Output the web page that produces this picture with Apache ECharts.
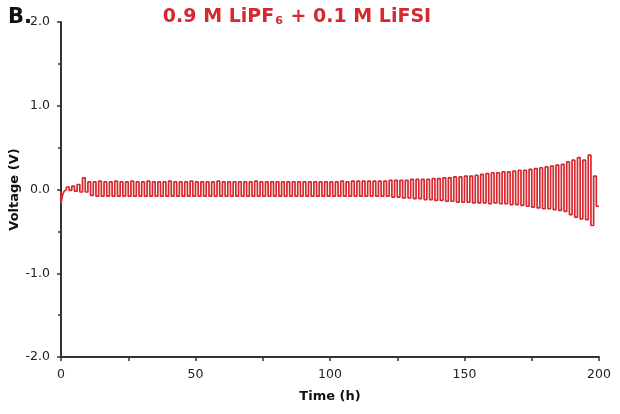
<!DOCTYPE html>
<html>
<head>
<meta charset="utf-8">
<script src="https://cdn.jsdelivr.net/npm/echarts@6/dist/echarts.min.js"></script>
<style>
html,body{margin:0;padding:0;background:#fff;}
#c{width:620px;height:414px;}
</style>
</head>
<body>
<div id="c"></div>
<script>
// Start-up transient (t = 0..2 h)
var startTime = [0, 0.05, 0.6, 1.2, 2.0];
var startVolt = [-0.03, -0.16, -0.06, -0.02, 0.0];

// Each later cycle lasts 2 h (1 h positive, 1 h negative), starting at t = 2 h
var cycleHigh = [
  0.03, 0.04, 0.06, 0.14, 0.09, 0.09, 0.10, 0.09, 0.09, 0.10,
  0.09, 0.09, 0.10, 0.09, 0.09, 0.10, 0.09, 0.09, 0.09, 0.10,
  0.09, 0.09, 0.09, 0.10, 0.09, 0.09, 0.09, 0.09, 0.10, 0.09,
  0.09, 0.09, 0.09, 0.09, 0.09, 0.10, 0.09, 0.09, 0.09, 0.09,
  0.09, 0.09, 0.09, 0.09, 0.09, 0.09, 0.09, 0.09, 0.09, 0.09,
  0.09, 0.10, 0.09, 0.10, 0.10, 0.10, 0.10, 0.10, 0.10, 0.10,
  0.11, 0.11, 0.11, 0.11, 0.12, 0.12, 0.12, 0.12, 0.13, 0.13,
  0.14, 0.14, 0.15, 0.15, 0.16, 0.16, 0.17, 0.18, 0.19, 0.20,
  0.20, 0.21, 0.21, 0.22, 0.23, 0.23, 0.24, 0.25, 0.26, 0.27,
  0.28, 0.29, 0.30, 0.33, 0.35, 0.38, 0.35, 0.41, 0.16
];
var cycleLow = [
  -0.01, -0.02, -0.03, -0.03, -0.07, -0.08, -0.08, -0.08, -0.08, -0.08,
  -0.08, -0.08, -0.08, -0.08, -0.08, -0.08, -0.08, -0.08, -0.08, -0.08,
  -0.08, -0.08, -0.08, -0.08, -0.08, -0.08, -0.08, -0.08, -0.08, -0.08,
  -0.08, -0.08, -0.08, -0.08, -0.08, -0.08, -0.08, -0.08, -0.08, -0.08,
  -0.08, -0.08, -0.08, -0.08, -0.08, -0.08, -0.08, -0.08, -0.08, -0.08,
  -0.08, -0.08, -0.08, -0.08, -0.08, -0.08, -0.08, -0.08, -0.08, -0.08,
  -0.09, -0.09, -0.10, -0.10, -0.11, -0.11, -0.12, -0.12, -0.13, -0.13,
  -0.14, -0.14, -0.15, -0.15, -0.15, -0.16, -0.16, -0.16, -0.17, -0.16,
  -0.17, -0.17, -0.18, -0.18, -0.19, -0.20, -0.21, -0.22, -0.23, -0.23,
  -0.24, -0.25, -0.26, -0.30, -0.33, -0.35, -0.36, -0.43, -0.20
];
var cycleStart = 2;   // h
var cycleLength = 2;  // h

var xTicks = [0, 50, 100, 150, 200];
var yTicks = [-2.0, -1.0, 0.0, 1.0, 2.0];

var data = [];
for (var k = 0; k < startTime.length; k++) data.push([startTime[k], startVolt[k]]);
for (var i = 0; i < cycleHigh.length; i++) {
  var t0 = cycleStart + i * cycleLength;
  var half = cycleLength / 2;
  data.push([t0, cycleHigh[i]]);
  data.push([t0 + half, cycleHigh[i]]);
  data.push([t0 + half, cycleLow[i]]);
  data.push([t0 + cycleLength, cycleLow[i]]);
}

var FONT = 'DejaVu Sans';
var RED = '#d6282f';
var chart = echarts.init(document.getElementById('c'), null, {renderer: 'canvas'});
chart.setOption({
  backgroundColor: '#fff',
  animation: false,
  title: [{
    text: '{a|0.9 M LiPF}{s|6}{a| + 0.1 M LiFSI}',
    left: 292, top: 3, textAlign: 'center',
    textStyle: {
      rich: {
        a: {fontFamily: FONT, fontWeight: 'bold', fontSize: 19, color: RED},
        s: {fontFamily: FONT, fontWeight: 'bold', fontSize: 11, color: RED, verticalAlign: 'bottom', padding: [8, 1, 0, 1]}
      }
    }
  }, {
    text: 'B.',
    left: 3, top: 2,
    textStyle: {fontFamily: FONT, fontWeight: 'bold', fontSize: 21, color: '#111'}
  }],
  grid: {left: 61, right: 21, top: 22, bottom: 57, containLabel: false, outerBoundsMode: 'none'},
  xAxis: {
    type: 'value', min: xTicks[0], max: xTicks[xTicks.length - 1], interval: 50,
    name: 'Time (h)', nameLocation: 'middle', nameGap: 33, nameMoveOverlap: false,
    nameTextStyle: {fontFamily: FONT, fontWeight: 'bold', fontSize: 13, color: '#111'},
    axisLine: {show: true, onZero: false, lineStyle: {color: '#333', width: 2}},
    axisTick: {show: true, length: 4, lineStyle: {color: '#333', width: 1.5}},
    minorTick: {show: true, splitNumber: 2, length: 4, lineStyle: {color: '#333', width: 1.5}},
    axisLabel: {fontFamily: FONT, fontSize: 12.5, color: '#222', margin: 11},
    splitLine: {show: false}
  },
  yAxis: {
    type: 'value', min: yTicks[0], max: yTicks[yTicks.length - 1], interval: 1,
    name: 'Voltage (V)', nameLocation: 'middle', nameGap: 40, nameRotate: 90, nameMoveOverlap: false,
    nameTextStyle: {fontFamily: FONT, fontWeight: 'bold', fontSize: 13, color: '#111'},
    axisLine: {show: true, onZero: false, lineStyle: {color: '#333', width: 2}},
    axisTick: {show: true, length: 4, lineStyle: {color: '#333', width: 1.5}},
    minorTick: {show: true, splitNumber: 2, length: 3, lineStyle: {color: '#333', width: 1.5}},
    axisLabel: {fontFamily: FONT, fontSize: 12.5, color: '#222', margin: 11,
      formatter: function (v) { return v.toFixed(1); }},
    splitLine: {show: false}
  },
  series: [{
    type: 'line', data: data, showSymbol: false, symbol: 'none',
    lineStyle: {color: RED, width: 1.7},
    clip: true
  }]
});
</script>
</body>
</html>
